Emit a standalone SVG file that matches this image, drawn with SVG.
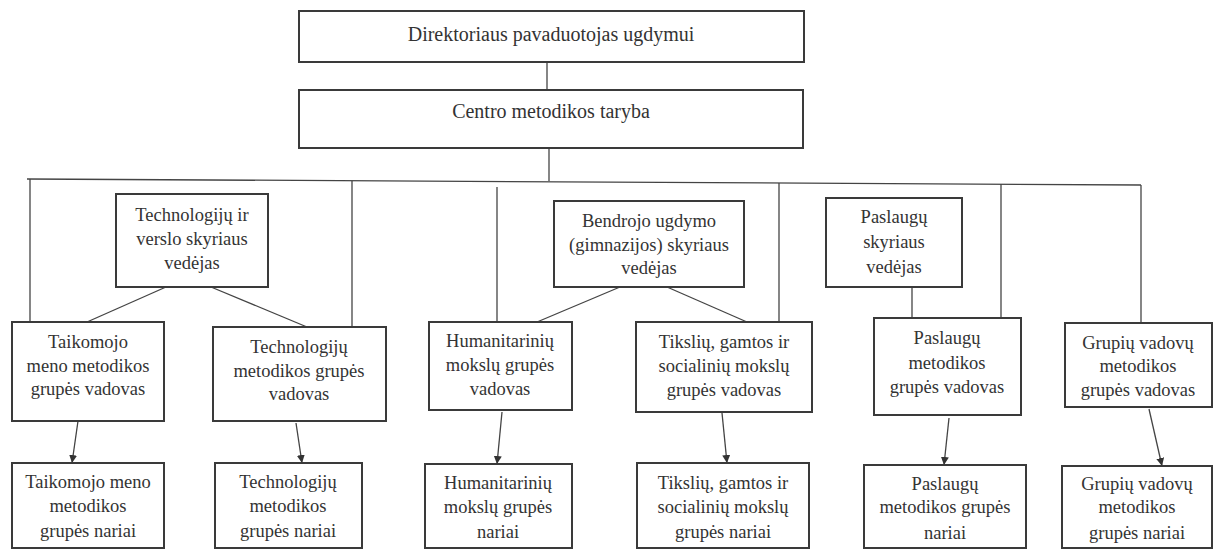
<svg xmlns="http://www.w3.org/2000/svg" width="1214" height="550" viewBox="0 0 1214 550">
<defs>
<style>
.box{fill:#fff;stroke:#3a3a3a;stroke-width:2}
.t{font-family:"Liberation Serif","Times New Roman",serif;font-size:18.5px;fill:#333;text-anchor:middle}
.tt{font-family:"Liberation Serif","Times New Roman",serif;font-size:20px;fill:#333;text-anchor:middle}
.c{stroke:#444;stroke-width:1.3;fill:none}
.a{stroke:#444;stroke-width:1.3;fill:none;marker-end:url(#ah)}
</style>
<marker id="ah" markerWidth="8" markerHeight="10" refX="8" refY="4" orient="auto" markerUnits="userSpaceOnUse">
<path d="M0,0 L8,4 L0,8 Z" fill="#333"/>
</marker>
</defs>
<rect width="1214" height="550" fill="#fff"/>
<g id="connectors">
<line class="c" x1="547" y1="62" x2="547" y2="90"/>
<line class="c" x1="549" y1="148" x2="549" y2="181"/>
<line class="c" x1="27" y1="179" x2="1141" y2="185"/>
<line class="c" x1="30" y1="179" x2="30" y2="322"/>
<line class="c" x1="352" y1="181" x2="352" y2="327"/>
<line class="c" x1="497" y1="187" x2="497" y2="322"/>
<line class="c" x1="779" y1="183" x2="779" y2="322"/>
<line class="c" x1="1001" y1="184" x2="1001" y2="318"/>
<line class="c" x1="1141" y1="185" x2="1141" y2="323"/>
<line class="c" x1="912" y1="287" x2="912" y2="318"/>
<line class="c" x1="166" y1="287" x2="87" y2="322"/>
<line class="c" x1="211" y1="287" x2="307" y2="327"/>
<line class="c" x1="620" y1="287" x2="537" y2="322"/>
<line class="c" x1="667" y1="287" x2="747" y2="322"/>
<line class="a" x1="78" y1="421" x2="72" y2="463"/>
<line class="a" x1="296" y1="423" x2="302" y2="463"/>
<line class="a" x1="502" y1="412" x2="497" y2="464"/>
<line class="a" x1="722" y1="413" x2="727" y2="463"/>
<line class="a" x1="949" y1="418" x2="944" y2="465"/>
<line class="a" x1="1149" y1="409" x2="1162" y2="466"/>
</g>
<g id="dir"><rect class="box" x="299" y="11" width="505" height="51"/><text class="tt" x="551" y="41">Direktoriaus pavaduotojas ugdymui</text></g>
<g id="centro"><rect class="box" x="299" y="90" width="504" height="58"/><text class="tt" x="551" y="118">Centro metodikos taryba</text></g>
<g id="techverslo"><rect class="box" x="116" y="194" width="152" height="93"/><text class="t" x="192" y="221">Technologijų ir</text><text class="t" x="192" y="245">verslo skyriaus</text><text class="t" x="192" y="269">vedėjas</text></g>
<g id="bendrojo"><rect class="box" x="554" y="201" width="190" height="86"/><text class="t" x="649" y="227">Bendrojo ugdymo</text><text class="t" x="649" y="251">(gimnazijos) skyriaus</text><text class="t" x="649" y="274">vedėjas</text></g>
<g id="paslaugusk"><rect class="box" x="826" y="198" width="136" height="89"/><text class="t" x="894" y="223">Paslaugų</text><text class="t" x="894" y="248">skyriaus</text><text class="t" x="894" y="273">vedėjas</text></g>
<g id="taikv"><rect class="box" x="12" y="322" width="152" height="99"/><text class="t" x="88" y="348">Taikomojo</text><text class="t" x="88" y="372">meno metodikos</text><text class="t" x="88" y="395">grupės vadovas</text></g>
<g id="techv"><rect class="box" x="213" y="327" width="173" height="94"/><text class="t" x="299" y="353">Technologijų</text><text class="t" x="299" y="377">metodikos grupės</text><text class="t" x="299" y="400">vadovas</text></g>
<g id="humv"><rect class="box" x="429" y="322" width="143" height="88"/><text class="t" x="500" y="347">Humanitarinių</text><text class="t" x="500" y="371">mokslų grupės</text><text class="t" x="500" y="395">vadovas</text></g>
<g id="tikslv"><rect class="box" x="636" y="322" width="176" height="90"/><text class="t" x="724" y="348">Tikslių, gamtos ir</text><text class="t" x="724" y="372">socialinių mokslų</text><text class="t" x="724" y="396">grupės vadovas</text></g>
<g id="paslv"><rect class="box" x="874" y="318" width="147" height="97"/><text class="t" x="947" y="344">Paslaugų</text><text class="t" x="947" y="369">metodikos</text><text class="t" x="947" y="393">grupės vadovas</text></g>
<g id="grupv"><rect class="box" x="1065" y="323" width="147" height="84"/><text class="t" x="1138" y="349">Grupių vadovų</text><text class="t" x="1138" y="372">metodikos</text><text class="t" x="1138" y="396">grupės vadovas</text></g>
<g id="taikn"><rect class="box" x="12" y="463" width="152" height="85"/><text class="t" x="88" y="488">Taikomojo meno</text><text class="t" x="88" y="512">metodikos</text><text class="t" x="88" y="537">grupės nariai</text></g>
<g id="techn"><rect class="box" x="215" y="463" width="147" height="85"/><text class="t" x="288" y="488">Technologijų</text><text class="t" x="288" y="512">metodikos</text><text class="t" x="288" y="537">grupės nariai</text></g>
<g id="humn"><rect class="box" x="425" y="464" width="147" height="84"/><text class="t" x="498" y="489">Humanitarinių</text><text class="t" x="498" y="513">mokslų grupės</text><text class="t" x="498" y="538">nariai</text></g>
<g id="tiksln"><rect class="box" x="637" y="463" width="172" height="85"/><text class="t" x="723" y="489">Tikslių, gamtos ir</text><text class="t" x="723" y="513">socialinių mokslų</text><text class="t" x="723" y="538">grupės nariai</text></g>
<g id="pasln"><rect class="box" x="864" y="465" width="162" height="83"/><text class="t" x="945" y="490">Paslaugų</text><text class="t" x="945" y="513">metodikos grupės</text><text class="t" x="945" y="539">nariai</text></g>
<g id="grupn"><rect class="box" x="1062" y="466" width="150" height="82"/><text class="t" x="1137" y="490">Grupių vadovų</text><text class="t" x="1137" y="513">metodikos</text><text class="t" x="1137" y="539">grupės nariai</text></g>
</svg>
